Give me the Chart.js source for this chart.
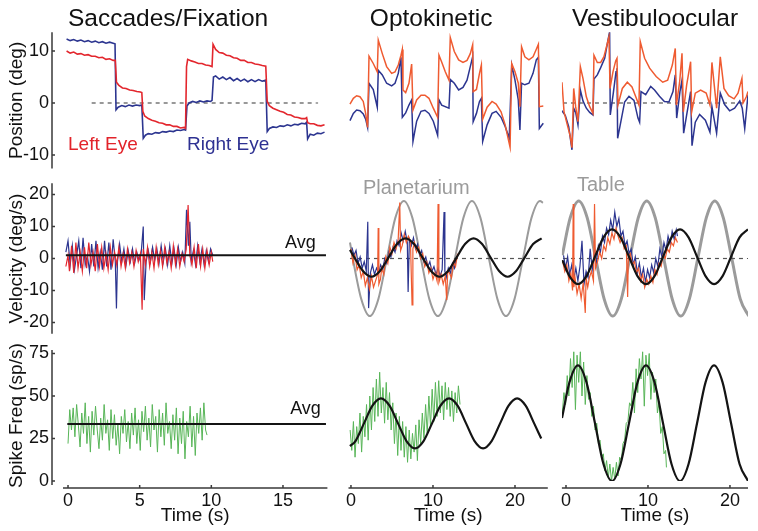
<!DOCTYPE html>
<html><head><meta charset="utf-8">
<script src="https://cdn.jsdelivr.net/npm/chart.js@4.4.1/dist/chart.umd.min.js"></script>
<style>
html,body{margin:0;padding:0;background:#fff;}
#wrap{position:relative;width:758px;height:531px;overflow:hidden;background:#fff;}
#wrap canvas{position:absolute;left:0;top:0;}
</style></head><body><div id="wrap"></div>
<script>
// ---------------- DATA (time s, value) ----------------
// Saccades/Fixation – eye position (deg)
const saccPosRight = [[-0.1,12.3],[0.15,12.0],[0.4,12.2],[0.65,11.9],[0.9,12.1],[1.15,11.8],[1.4,12.0],[1.65,11.7],[1.9,11.9],[2.15,11.6],[2.4,11.8],[2.65,11.5],[2.9,11.7],[3.15,11.5],[3.28,11.4],
[3.35,-1.3],[3.5,-0.8],[3.75,-0.5],[4.0,-0.7],[4.25,-0.4],[4.5,-0.6],[4.75,-0.4],[5.0,-0.5],[5.15,-0.4],
[5.25,-6.8],[5.4,-6.2],[5.6,-5.9],[5.85,-6.0],[6.1,-5.7],[6.35,-5.8],[6.6,-5.5],[6.85,-5.6],[7.1,-5.4],[7.35,-5.5],[7.6,-5.2],[7.85,-5.3],[8.1,-5.1],[8.2,-5.2],
[8.3,-0.6],[8.45,0.0],[8.7,0.3],[8.95,0.1],[9.2,0.4],[9.45,0.2],[9.7,0.4],[9.95,0.3],[10.05,0.5],
[10.15,5.0],[10.3,5.2],[10.55,4.6],[10.8,5.0],[11.05,4.5],[11.3,4.9],[11.55,4.3],[11.8,4.7],[12.05,4.2],[12.3,4.6],[12.55,4.1],[12.8,4.5],[13.05,4.1],[13.3,4.5],[13.55,4.2],[13.8,4.4],
[13.9,-5.5],[14.05,-4.9],[14.3,-4.6],[14.55,-4.7],[14.8,-4.4],[15.05,-4.5],[15.3,-4.2],[15.55,-4.4],[15.8,-4.1],[16.05,-4.2],[16.3,-3.9],[16.55,-4.0],[16.65,-3.7],
[16.72,-6.9],[16.9,-6.0],[17.15,-6.2],[17.4,-5.8],[17.65,-5.9],[17.9,-5.6]];
const saccPosLeft = [[-0.1,10.0],[0.15,9.6],[0.4,9.8],[0.65,9.4],[0.9,9.5],[1.15,9.2],[1.4,9.3],[1.65,9.0],[1.9,9.0],[2.15,8.7],[2.4,8.8],[2.65,8.4],[2.9,8.5],[3.15,8.2],[3.3,8.2],
[3.38,4.0],[3.55,3.4],[3.8,2.9],[4.05,2.8],[4.3,2.5],[4.55,2.4],[4.8,2.2],[5.05,2.1],[5.15,2.0],
[5.22,-1.6],[5.35,-2.5],[5.6,-3.0],[5.85,-3.3],[6.1,-3.5],[6.35,-3.8],[6.6,-3.9],[6.85,-4.2],[7.1,-4.2],[7.35,-4.5],[7.6,-4.5],[7.85,-4.8],[8.1,-4.7],[8.2,-4.9],
[8.27,7.0],[8.35,8.4],[8.6,8.1],[8.85,7.9],[9.1,7.6],[9.35,7.6],[9.6,7.3],[9.85,7.2],[10.05,7.0],
[10.12,11.3],[10.3,10.3],[10.55,9.7],[10.8,9.6],[11.05,9.2],[11.3,9.1],[11.55,8.7],[11.8,8.6],[12.05,8.2],[12.3,8.2],[12.55,7.8],[12.8,7.8],[13.05,7.5],[13.3,7.4],[13.55,7.2],[13.8,7.1],
[13.9,0.3],[14.05,-0.5],[14.3,-1.0],[14.55,-1.3],[14.8,-1.6],[15.05,-1.8],[15.3,-2.2],[15.55,-2.3],[15.8,-2.7],[16.05,-2.8],[16.3,-3.0],[16.55,-3.0],[16.65,-2.8],
[16.72,-3.8],[16.9,-4.0],[17.15,-4.0],[17.4,-4.3],[17.65,-4.4],[17.9,-4.2]];
const saccZeroRef = [[1.65,0],[17.45,0]];

// Saccades/Fixation – eye velocity (deg/s)
const saccVelRight = [[-0.15,2],[0.0,5.5],[0.15,-2],[0.3,4],[0.45,-3.5],[0.6,1],[0.75,5.5],[0.9,-3],[1.05,6.5],[1.2,-2],[1.35,1],[1.5,-4],[1.65,4.5],[1.8,-2.5],[1.95,5.5],[2.1,-3],[2.25,2],[2.4,-3.5],[2.55,5.5],[2.7,-2.5],[2.85,5],[3.0,-3.5],[3.15,6],[3.3,-1],[3.38,-15.6],[3.45,-1],[3.6,4.5],[3.75,-1],[3.9,3],[4.05,-2],[4.2,2.5],[4.35,-1],[4.5,3],[4.65,-1.5],[4.8,2],[4.95,-0.5],[5.1,1.5],[5.25,10],[5.32,-13],[5.45,-1],[5.6,2.5],[5.75,-1],[5.9,3.5],[6.05,-0.5],[6.2,3],[6.35,-1.5],[6.5,4],[6.65,-1],[6.8,3],[6.95,-2],[7.1,4],[7.25,-1.5],[7.4,3],[7.55,-2],[7.7,3.5],[7.85,-1],[8.0,2],[8.15,-1.5],[8.27,15.2],[8.4,4],[8.5,11.5],[8.6,-1],[8.75,2.5],[8.9,-2],[9.05,4],[9.2,-1],[9.35,3],[9.5,-2],[9.65,2.5],[9.8,-1],[9.95,3],[10.1,1]];
const saccVelLeft = [[-0.15,-2.5],[0.0,1],[0.1,-4],[0.25,4],[0.4,-4.5],[0.55,5],[0.7,-3],[0.85,2],[1.0,-4],[1.15,3.5],[1.3,-3],[1.45,5],[1.6,-2],[1.75,2],[1.9,-4],[2.05,4.5],[2.2,-2.5],[2.35,3.5],[2.5,-3],[2.65,1.5],[2.8,-3.5],[2.95,3.5],[3.1,-2],[3.25,2],[3.4,-2],[3.55,3.5],[3.7,-2.5],[3.85,1.5],[4.0,-3],[4.15,3],[4.3,-1.5],[4.45,2],[4.6,-2.5],[4.75,2.5],[4.9,-1],[5.05,1.5],[5.17,-16],[5.25,3],[5.4,-2],[5.55,3.5],[5.7,-2.5],[5.85,2],[6.0,-3],[6.15,3.5],[6.3,-2],[6.45,2.5],[6.6,-2.5],[6.75,3.5],[6.9,-1.5],[7.05,2],[7.2,-3],[7.35,4],[7.5,-2],[7.65,3],[7.8,-2.5],[7.95,1.5],[8.1,-1],[8.25,3],[8.38,16.7],[8.5,1],[8.65,-2],[8.8,3.5],[8.95,-3],[9.1,4.5],[9.25,-2.5],[9.4,3],[9.55,-3],[9.7,2.5],[9.85,-2],[10.0,2],[10.1,-1]];
const saccVelAvg = [[-0.15,1],[18.0,1]];

// Saccades/Fixation – spike frequency (sp/s)
const saccSpikes = [[0.0,22],[0.12,42],[0.24,30],[0.36,43],[0.48,26],[0.6,45],[0.72,33],[0.84,20],[0.96,40],[1.08,28],[1.2,46],[1.32,22],[1.44,38],[1.56,17],[1.68,41],[1.8,27],[1.92,44],[2.04,30],[2.16,19],[2.28,37],[2.4,24],[2.52,45],[2.64,28],[2.76,36],[2.88,18],[3.0,42],[3.12,25],[3.24,39],[3.36,21],[3.48,33],[3.6,16],[3.72,38],[3.84,28],[3.96,42],[4.08,23],[4.2,35],[4.32,19],[4.44,40],[4.56,27],[4.68,43],[4.8,22],[4.92,36],[5.04,18],[5.16,41],[5.28,29],[5.4,44],[5.52,24],[5.64,37],[5.76,20],[5.88,45],[6.0,30],[6.12,38],[6.24,17],[6.36,42],[6.48,26],[6.6,40],[6.72,21],[6.84,46],[6.96,28],[7.08,35],[7.2,19],[7.32,39],[7.44,24],[7.56,43],[7.68,16],[7.8,37],[7.92,22],[8.04,41],[8.16,13],[8.28,35],[8.4,26],[8.52,44],[8.64,20],[8.76,38],[8.88,15],[9.0,40],[9.12,28],[9.24,43],[9.36,24],[9.48,46],[9.6,30],[9.7,27]];
const saccSpikeAvg = [[-0.05,33.5],[18.0,33.5]];

// Optokinetic – eye position (deg)
const okrPosLeft = [[-0.12,-0.2],[0.29,0.9],[0.69,1.4],[1.1,1.2],[1.5,0.3],[1.79,-2.0],[2.03,-4.7],[2.2,9.0],[2.72,7.6],[3.21,6.0],[3.33,12.1],[3.82,9.5],[4.35,7.0],[4.96,5.7],[5.37,6.0],[5.77,7.3],[6.1,9.2],[6.26,10.3],[6.34,2.5],[6.67,2.0],[7.07,3.8],[7.4,7.5],[7.56,-1.35],[8.01,0.6],[8.54,1.5],[9.02,1.5],[9.51,0.9],[10.04,-1.0],[10.57,-2.75],[10.73,9.2],[11.06,7.9],[11.5,6.0],[11.95,4.4],[12.11,12.6],[12.6,9.9],[13.13,8.3],[13.66,7.8],[14.15,8.2],[14.55,9.5],[14.84,11.2],[14.9,2.2],[15.3,2.6],[15.67,5.7],[15.9,7.3],[16.06,-3.1],[16.6,-0.8],[17.2,0.3],[17.7,-0.2],[18.3,-1.7],[18.8,-4.2],[19.2,-7.1],[19.4,-8.5],[19.6,7.6],[20.0,6.0],[20.4,3.8],[20.6,-0.7],[20.8,10.8],[21.2,8.9],[21.7,8.3],[22.2,8.9],[22.56,10.2],[22.85,11.3],[22.97,-0.7],[23.45,-0.6]];
const okrPosRight = [[-0.12,-3.4],[0.29,-2.0],[0.69,-1.35],[1.1,-1.5],[1.5,-2.1],[1.79,-3.1],[2.03,-4.7],[2.2,3.8],[2.72,2.6],[3.21,-0.8],[3.33,6.3],[3.82,5.4],[4.35,3.8],[4.96,3.3],[5.37,3.8],[5.77,5.7],[6.1,8.8],[6.26,-2.75],[6.67,-1.9],[7.07,-0.4],[7.4,0.6],[7.56,-7.4],[8.01,-3.5],[8.54,-1.6],[9.02,-1.4],[9.51,-2.0],[10.04,-3.5],[10.57,-6.2],[10.73,0.6],[11.06,-0.4],[11.95,-1.0],[12.11,4.55],[12.6,3.8],[13.13,2.5],[13.66,3.0],[14.15,4.4],[14.55,7.0],[14.84,8.9],[14.9,-3.6],[15.3,-2.0],[15.67,0.3],[15.9,0.9],[16.06,-7.4],[16.6,-4.2],[17.2,-2.0],[17.7,-1.6],[18.3,-2.75],[18.8,-4.5],[19.3,-6.8],[19.6,7.3],[20.0,4.4],[20.4,0.6],[20.6,-5.2],[20.8,3.8],[21.2,3.5],[21.7,3.8],[22.2,5.7],[22.6,8.3],[22.85,8.8],[22.97,-4.9],[23.45,-3.9]];

// Optokinetic – velocity (deg/s)
const okrStim = [[-0.12,5],[0.225,0],[1.26,-12.7],[2.3,-18],[3.34,-12.7],[4.375,0],[5.41,12.7],[6.45,18],[7.49,12.7],[8.525,0],[9.56,-12.7],[10.6,-18],[11.64,-12.7],[12.675,0],[13.71,12.7],[14.75,18],[15.79,12.7],[16.825,0],[17.86,-12.7],[18.9,-18],[19.94,-12.7],[20.975,0],[22.01,12.7],[23.05,18],[23.4,17.4]];
const okrVelFit = [[-0.12,2.7],[0.425,0.3],[1.46,-3.9],[2.5,-5.7],[3.54,-3.9],[4.575,0.3],[5.61,4.5],[6.65,6.3],[7.69,4.5],[8.725,0.3],[9.76,-3.9],[10.8,-5.7],[11.84,-3.9],[12.875,0.3],[13.91,4.5],[14.95,6.3],[15.99,4.5],[17.025,0.3],[18.06,-3.9],[19.1,-5.7],[20.14,-3.9],[21.175,0.3],[22.21,4.5],[23.25,6.3]];
const okrVelLeft = [[0,3.0],[0.25,-1.5],[0.5,1.0],[0.75,-3.5],[1,-2.0],[1.25,-6.0],[1.5,-4.0],[1.75,-8.5],[2,-6.0],[2.25,-9.5],[2.5,-5.5],[2.75,-9.0],[3,-7.0],[3.25,-5.0],[3.32,9.5],[3.4,-8.0],[3.6,-6.5],[3.75,-3.0],[4,-5.0],[4.25,0.5],[4.5,-1.5],[4.75,3.5],[5,1.5],[5.25,5.0],[5.5,3.0],[5.75,5.5],[5.95,17.5],[6.05,2.5],[6.25,4.0],[6.5,7.5],[6.75,5.0],[7,7.0],[7.25,5.5],[7.45,-14.5],[7.55,3.0],[7.75,5.0],[8,2.0],[8.25,3.5],[8.5,0.0],[8.75,1.5],[9,-2.5],[9.25,-1.0],[9.5,-4.5],[9.75,-3.0],[10,-6.5],[10.25,-4.5],[10.5,-7.0],[10.62,17.0],[10.72,-7.5],[11,-5.0],[11.25,-8.0],[11.5,-5.5],[11.67,-13.0],[11.8,-4.0],[12,-4.5],[12.25,-6.0],[12.5,-1.0],[12.75,-2.5],[13,1.5]];
const okrVelRight = [[0.12,3.5],[0.37,1.0],[0.62,2.5],[0.87,-1.5],[1.12,0.5],[1.37,-3.0],[1.62,-1.0],[1.87,-4.0],[2.05,11.5],[2.15,-15.5],[2.37,-4.5],[2.62,-2.0],[2.87,-5.0],[3.12,-3.0],[3.37,-4.5],[3.62,-2.0],[3.87,-3.5],[4.12,0.0],[4.37,-1.5],[4.62,2.0],[4.87,0.5],[5.12,3.5],[5.37,2.0],[5.62,5.5],[5.87,4.0],[6.12,8.0],[6.37,5.5],[6.62,8.5],[6.87,5.0],[6.97,-10.5],[7.12,6.0],[7.37,4.0],[7.62,6.5],[7.87,3.0],[8.12,4.5],[8.37,1.0],[8.62,2.5],[8.87,-1.0],[9.12,0.5],[9.37,-2.5],[9.62,-1.0],[9.87,-4.0],[10.12,-2.5],[10.37,-5.0],[10.62,-3.0],[10.87,-5.5],[11.12,-3.5],[11.35,14.5],[11.45,-4.0],[11.62,-6.0],[11.87,-3.0],[12.12,-4.5],[12.37,-1.5],[12.62,-3.0],[12.87,0.5]];
const okrZeroRef = [[-0.12,0],[23.6,0]];

// Optokinetic – spike frequency (sp/s)
const okrSpikeFit = [[-0.12,20.5],[0.55,23.5],[1.585,33.9],[2.62,44.3],[3.66,48.6],[4.7,44.3],[5.735,33.9],[6.77,23.5],[7.81,19.2],[8.85,23.5],[9.885,33.9],[10.92,44.3],[11.96,48.6],[13.0,44.3],[14.035,33.9],[15.07,23.5],[16.11,19.2],[17.15,23.5],[18.185,33.9],[19.22,44.3],[20.26,48.6],[21.3,44.3],[22.335,33.9],[23.2,25]];
const okrSpikes = [[-0.1,30],[0.1,18],[0.3,35],[0.5,14],[0.7,32],[0.9,22],[1.1,40],[1.3,17],[1.5,38],[1.7,26],[1.9,45],[2.1,24],[2.3,50],[2.5,30],[2.7,55],[2.9,35],[3.1,60],[3.3,38],[3.5,64],[3.7,40],[3.9,55],[4.1,34],[4.3,58],[4.5,36],[4.7,52],[4.9,30],[5.1,46],[5.3,22],[5.5,40],[5.7,15],[5.9,38],[6.1,18],[6.3,35],[6.5,14],[6.7,32],[6.9,11],[7.1,30],[7.3,13],[7.5,28],[7.7,17],[7.9,33],[8.1,12],[8.3,36],[8.5,22],[8.7,40],[8.9,25],[9.1,45],[9.3,28],[9.5,50],[9.7,32],[9.9,54],[10.1,35],[10.3,58],[10.5,38],[10.7,59],[10.9,40],[11.1,56],[11.3,36],[11.5,58],[11.7,42],[11.9,55],[12.1,38],[12.3,53],[12.5,35],[12.7,52],[12.9,40],[13.1,56],[13.3,45]];

// Vestibuloocular – eye position (deg)
const vorPosLeft = [[-0.49,4.0],[-0.24,-1.7],[0.16,-4.2],[0.49,-6.2],[0.73,-8.6],[0.94,2.8],[1.18,-0.7],[1.46,-3.6],[1.75,7.0],[2.07,4.75],[2.48,1.2],[2.89,-0.7],[3.29,-2.0],[3.41,9.2],[3.82,7.8],[4.23,7.8],[4.63,8.9],[5.0,11.2],[5.24,12.75],[5.37,2.8],[5.73,6.0],[6.06,8.1],[6.22,8.6],[6.34,-0.4],[6.87,2.8],[7.48,4.0],[8.05,3.1],[8.58,0.9],[8.9,-0.4],[9.06,11.8],[9.59,8.6],[10.2,6.7],[11.0,5.1],[11.8,4.0],[12.4,4.4],[12.97,7.3],[13.33,10.5],[13.46,-0.4],[13.86,4.0],[14.15,9.55],[14.31,-1.7],[14.72,3.5],[15.2,7.95],[15.33,-1.7],[15.77,1.9],[16.42,2.5],[17.1,1.9],[17.56,-0.4],[17.8,7.8],[18.37,-1.0],[18.82,8.9],[19.27,2.8],[19.84,1.4],[20.5,0.8],[20.98,1.9],[21.46,4.75],[21.6,0.0],[22.0,1.2],[22.2,2.2]];
const vorPosRight = [[-0.49,-1.5],[-0.08,-2.4],[0.33,-4.55],[0.73,-9.0],[0.94,-1.0],[1.18,-1.8],[1.46,-4.2],[1.75,2.5],[2.07,0.4],[2.48,-1.0],[2.89,-1.8],[3.29,-2.3],[3.41,4.6],[3.82,5.4],[4.23,6.8],[4.72,8.6],[5.12,12.1],[5.32,13.7],[5.4,-2.3],[5.77,1.9],[6.1,6.0],[6.22,6.7],[6.3,-6.8],[6.75,-3.1],[7.15,0.2],[7.68,1.3],[8.29,0.5],[8.78,-2.9],[8.98,-3.7],[9.15,2.2],[9.72,1.6],[10.33,3.2],[10.8,2.5],[11.4,1.3],[12.0,0.3],[12.56,0.2],[13.05,2.2],[13.33,5.4],[13.5,-2.9],[13.9,2.2],[14.15,4.4],[14.35,-5.8],[14.76,-1.9],[15.2,2.2],[15.37,-8.2],[15.77,-3.7],[16.3,-2.2],[17.0,-3.3],[17.56,-5.6],[17.8,-0.7],[18.37,-5.8],[18.82,1.9],[19.35,-0.3],[19.96,-1.5],[20.57,-1.0],[21.2,0.4],[21.5,-1.0],[21.8,-4.9],[22.2,1.6]];
const vorPosZeroRef = [[-0.37,0],[22.2,0]];

// Vestibuloocular – velocity (deg/s)
const vorStim = [[-0.45,1],[0.51,12.7],[1.55,18],[2.59,12.7],[3.625,0],[4.66,-12.7],[5.7,-18],[6.74,-12.7],[7.775,0],[8.81,12.7],[9.85,18],[10.89,12.7],[11.925,0],[12.96,-12.7],[14.0,-18],[15.04,-12.7],[16.075,0],[17.11,12.7],[18.15,18],[19.19,12.7],[20.225,0],[21.26,-12.7],[22.3,-18]];
const vorVelFit = [[-0.45,-0.5],[0.42,-5.5],[1.46,-8.0],[2.5,-5.5],[3.535,0.55],[4.57,6.6],[5.61,9.1],[6.65,6.6],[7.685,0.55],[8.72,-5.5],[9.76,-8.0],[10.8,-5.5],[11.835,0.55],[12.87,6.6],[13.91,9.1],[14.95,6.6],[15.985,0.55],[17.02,-5.5],[18.06,-8.0],[19.1,-5.5],[20.135,0.55],[21.17,6.6],[22.2,9.1]];
const vorVelLeft = [[-0.4,-1.0],[-0.15,-4.0],[0.1,-2.0],[0.35,-7.0],[0.6,-4.5],[0.8,-10.0],[0.88,17.0],[0.96,-9.0],[1.1,-6.0],[1.35,-11.0],[1.6,-8.0],[1.85,-12.5],[2.1,-7.5],[2.35,-17.0],[2.45,-6.0],[2.65,-9.0],[2.85,-6.0],[3.1,-4.0],[3.35,-7.0],[3.48,17.0],[3.6,-3.0],[3.85,-1.0],[4.1,2.0],[4.35,0.0],[4.6,4.0],[4.85,2.5],[5.1,6.5],[5.35,4.5],[5.6,8.0],[5.85,6.0],[6.1,9.5],[6.35,7.0],[6.6,5.0],[6.85,6.5],[7.1,3.0],[7.35,4.0],[7.52,-12.0],[7.6,0.5],[7.85,1.5],[8.1,-2.0],[8.35,-1.0],[8.6,-4.5],[8.85,-3.0],[9.1,-7.0],[9.35,-5.0],[9.6,-9.0],[9.85,-6.5],[10.1,-8.0],[10.35,-5.5],[10.6,-7.5],[10.85,-3.5],[11.1,-5.0],[11.35,-1.5],[11.6,-2.5],[11.85,1.0],[12.1,0.0],[12.35,3.0],[12.6,2.0],[12.85,5.0],[13.1,4.0],[13.35,6.5],[13.6,5.0]];
const vorVelRight = [[-0.3,1.0],[-0.05,-3.0],[0.2,0.5],[0.45,-5.0],[0.7,-2.0],[0.95,-6.5],[1.2,-3.0],[1.45,-7.0],[1.7,-2.5],[1.95,5.5],[2.2,-8.0],[2.45,-4.0],[2.7,-6.0],[2.95,3.0],[3.2,-3.5],[3.45,1.0],[3.7,-1.5],[3.95,4.0],[4.2,2.0],[4.45,7.0],[4.7,5.0],[4.95,9.5],[5.2,7.5],[5.45,12.0],[5.7,9.0],[5.95,14.5],[6.2,10.0],[6.45,12.5],[6.7,7.0],[6.95,8.5],[7.2,4.0],[7.45,5.5],[7.7,1.5],[7.95,3.0],[8.2,-2.0],[8.45,0.5],[8.7,-4.5],[8.95,-1.5],[9.2,-6.0],[9.45,-3.0],[9.7,-7.5],[9.95,-3.5],[10.2,-6.0],[10.45,-2.0],[10.7,-4.5],[10.95,0.0],[11.2,-2.5],[11.45,3.0],[11.7,0.5],[11.95,5.0],[12.2,2.5],[12.45,7.0],[12.7,4.5],[12.95,8.5],[13.2,6.0],[13.45,9.0],[13.6,7.0]];
const vorVelZeroRef = [[-0.37,0],[22.3,0]];

// Vestibuloocular – spike frequency (sp/s)
const vorSpikeFit = [[-0.49,37],[0.42,58],[1.46,68],[2.5,58],[3.535,34],[4.57,10],[5.61,0],[6.65,10],[7.685,34],[8.72,58],[9.76,68],[10.8,58],[11.835,34],[12.87,10],[13.91,0],[14.95,10],[15.985,34],[17.02,58],[18.06,68],[19.1,58],[20.135,34],[21.17,10],[22.2,0]];
const vorSpikes = [[-0.45,40],[-0.25,52],[-0.05,45],[0.15,62],[0.35,50],[0.55,72],[0.75,55],[0.95,76],[1.15,42],[1.35,74],[1.55,58],[1.75,76],[1.95,50],[2.15,70],[2.35,45],[2.55,62],[2.75,48],[2.95,52],[3.15,38],[3.35,44],[3.55,30],[3.75,34],[3.95,22],[4.15,24],[4.35,14],[4.55,16],[4.75,6],[4.95,12],[5.15,2],[5.35,10],[5.55,0],[5.75,8],[5.95,1],[6.15,11],[6.35,3],[6.55,14],[6.75,12],[6.95,22],[7.15,24],[7.35,34],[7.55,35],[7.75,46],[7.95,44],[8.15,58],[8.35,40],[8.55,66],[8.75,52],[8.95,72],[9.15,60],[9.35,76],[9.55,44],[9.75,74],[9.95,62],[10.15,75],[10.35,48],[10.55,64],[10.75,52],[10.95,60],[11.15,40],[11.35,46],[11.55,28],[11.75,32],[11.95,16],[12.15,18],[12.25,8]];

// Tick labels
const xTicksSacc = [0, 5, 10, 15];
const xTicksSine = [0, 10, 20];
const yTicksPos = [-10, 0, 10];
const yTicksVel = [-20, -10, 0, 10, 20];
const yTicksSpk = [0, 25, 50, 75];

// ---------------- STYLE / LAYOUT ----------------
const FONT = "'Liberation Sans', Arial, Helvetica, sans-serif";
const RED = '#e3262d', BLUE = '#2c3590', ORANGE = '#ef5b31', GREEN = '#58b558', GRAY = '#9b9b9b', BLACK = '#141414', DASH = '#555';
const W = 758, H = 531, YAXW = 63, XAXH = 50;
const cols = {
  L: {left: 63, right: 327.4, min: -0.35, max: 18.1},
  M: {left: 348.5, right: 547.8, min: -0.3, max: 24.0},
  R: {left: 561.9, right: 748, min: -0.5, max: 22.2}
};
const rows = {
  1: {top: 32.3, bottom: 168.5, min: -12.6, max: 13.6},
  2: {top: 183.3, bottom: 333.7, min: -23.5, max: 23.5},
  3: {top: 350.1, bottom: 481, min: 0, max: 77}
};

const pts = a => a.map(p => ({x: p[0], y: p[1]}));
function ln(arr, color, width, extra) {
  return Object.assign({data: pts(arr), borderColor: color, borderWidth: width, pointRadius: 0, fill: false, tension: 0}, extra || {});
}
const smooth = {cubicInterpolationMode: 'monotone'};
const dashed = {borderDash: [4, 4]};

function axisPlugin(o) {
  return {id: 'axisLines', afterDraw(chart) {
    const {ctx, chartArea: a, scales} = chart;
    ctx.save();
    ctx.strokeStyle = '#3a3a3a'; ctx.lineWidth = 1.5;
    ctx.beginPath();
    if (o.yLine) {
      const px = a.left - 11;
      ctx.moveTo(px, a.top); ctx.lineTo(px, a.bottom + o.yExtend);
      scales.y.ticks.forEach(t => { const py = scales.y.getPixelForValue(t.value); ctx.moveTo(px, py); ctx.lineTo(px + 3, py); });
    }
    if (o.xLine) {
      const py = a.bottom + 7;
      ctx.moveTo(a.left, py); ctx.lineTo(a.right, py);
      scales.x.ticks.forEach(t => { const px = scales.x.getPixelForValue(t.value); ctx.moveTo(px, py); ctx.lineTo(px, py - 3); });
    }
    ctx.stroke();
    ctx.restore();
  }};
}
function textPlugin(items) {
  return {id: 'texts', afterDraw(chart) {
    const {ctx, scales: {x, y}} = chart;
    ctx.save();
    items.forEach(it => {
      ctx.font = it.size + 'px ' + FONT;
      ctx.fillStyle = it.color; ctx.textAlign = it.align || 'left'; ctx.textBaseline = 'middle';
      ctx.fillText(it.text, x.getPixelForValue(it.x), y.getPixelForValue(it.y));
    });
    ctx.restore();
  }};
}

const wrap = document.getElementById('wrap');
function panel(colKey, rowKey, datasets, opt) {
  const c = cols[colKey], r = rows[rowKey];
  const cv = document.createElement('canvas');
  cv.width = W; cv.height = H; wrap.appendChild(cv);
  const hasY = !!opt.yTicks, hasX = !!opt.xTicks;
  const yScale = {
    type: 'linear', min: r.min, max: r.max, display: hasY,
    grid: {display: false, drawTicks: false}, border: {display: false}
  };
  if (hasY) {
    Object.assign(yScale, {
      afterBuildTicks: s => { s.ticks = opt.yTicks.map(v => ({value: v})); },
      afterFit: s => { s.width = YAXW; },
      ticks: {padding: 14, color: '#111', font: {family: FONT, size: 18}, callback: v => String(v)},
      title: {display: true, text: opt.yTitle, color: '#111', font: {family: FONT, size: 19}, padding: {top: 5.6, bottom: 0}}
    });
  }
  const xScale = {
    type: 'linear', min: c.min, max: c.max, display: hasX,
    grid: {display: false, drawTicks: false}, border: {display: false}
  };
  if (hasX) {
    Object.assign(xScale, {
      afterBuildTicks: s => { s.ticks = opt.xTicks.map(v => ({value: v})); },
      afterFit: s => { s.height = XAXH; },
      ticks: {padding: 9, color: '#111', maxRotation: 0, autoSkip: false, font: {family: FONT, size: 18}, callback: v => String(v)},
      title: {display: true, text: 'Time (s)', color: '#111', font: {family: FONT, size: 19}, padding: {top: 0, bottom: 3.6}}
    });
  }
  new Chart(cv, {
    type: 'line',
    data: {datasets: datasets},
    options: {
      responsive: false, animation: false, devicePixelRatio: 1, events: [],
      layout: {padding: {
        left: hasY ? c.left - YAXW : c.left,
        right: W - c.right,
        top: r.top,
        bottom: hasX ? H - r.bottom - XAXH : H - r.bottom
      }},
      scales: {x: xScale, y: yScale},
      plugins: {legend: {display: false}, tooltip: {enabled: false}, title: {display: false}}
    },
    plugins: [axisPlugin({yLine: hasY, yExtend: rowKey === 3 ? 4 : 0, xLine: hasX}), textPlugin(opt.texts || [])]
  });
}

// ---------------- PANELS (first dataset is drawn on top) ----------------
panel('L', 1, [
  ln(saccPosLeft, RED, 1.6),
  ln(saccPosRight, BLUE, 1.6),
  ln(saccZeroRef, DASH, 1.2, dashed)
], {yTicks: yTicksPos, yTitle: 'Position (deg)', texts: [
  {text: 'Saccades/Fixation', x: 0, y: 16.2, color: '#111', size: 24.5},
  {text: 'Left Eye', x: 0, y: -8.1, color: '#e2232a', size: 19},
  {text: 'Right Eye', x: 8.3, y: -8.1, color: '#2e3192', size: 19}
]});

panel('L', 2, [
  ln(saccVelAvg, BLACK, 2),
  ln(saccVelLeft, RED, 1.2),
  ln(saccVelRight, BLUE, 1.2)
], {yTicks: yTicksVel, yTitle: 'Velocity (deg/s)', texts: [
  {text: 'Avg', x: 15.15, y: 4.8, color: '#111', size: 18}
]});

panel('L', 3, [
  ln(saccSpikeAvg, BLACK, 2),
  ln(saccSpikes, GREEN, 1)
], {yTicks: yTicksSpk, yTitle: 'Spike Freq (sp/s)', xTicks: xTicksSacc, texts: [
  {text: 'Avg', x: 15.5, y: 42.4, color: '#111', size: 18}
]});

panel('M', 1, [
  ln(okrPosLeft, ORANGE, 1.5),
  ln(okrPosRight, BLUE, 1.5)
], {texts: [
  {text: 'Optokinetic', x: 2.3, y: 16.2, color: '#111', size: 24.5}
]});

panel('M', 2, [
  ln(okrVelFit, BLACK, 2.2, smooth),
  ln(okrVelLeft, ORANGE, 1.2),
  ln(okrVelRight, BLUE, 1.2),
  ln(okrZeroRef, DASH, 1.2, dashed),
  ln(okrStim, GRAY, 2, smooth)
], {texts: [
  {text: 'Planetarium', x: 1.46, y: 22, color: GRAY, size: 20}
]});

panel('M', 3, [
  ln(okrSpikeFit, BLACK, 2.2, smooth),
  ln(okrSpikes, GREEN, 1)
], {xTicks: xTicksSine});

panel('R', 1, [
  ln(vorPosLeft, ORANGE, 1.5),
  ln(vorPosRight, BLUE, 1.5),
  ln(vorPosZeroRef, DASH, 1.2, dashed)
], {texts: [
  {text: 'Vestibuloocular', x: 0.73, y: 16.2, color: '#111', size: 24.5}
]});

panel('R', 2, [
  ln(vorVelFit, BLACK, 2.2, smooth),
  ln(vorVelLeft, ORANGE, 1.2),
  ln(vorVelRight, BLUE, 1.2),
  ln(vorVelZeroRef, DASH, 1.2, dashed),
  ln(vorStim, GRAY, 3, smooth)
], {texts: [
  {text: 'Table', x: 1.34, y: 22.7, color: GRAY, size: 20}
]});

panel('R', 3, [
  ln(vorSpikeFit, BLACK, 2.2, smooth),
  ln(vorSpikes, GREEN, 1)
], {xTicks: xTicksSine});
</script></body></html>
